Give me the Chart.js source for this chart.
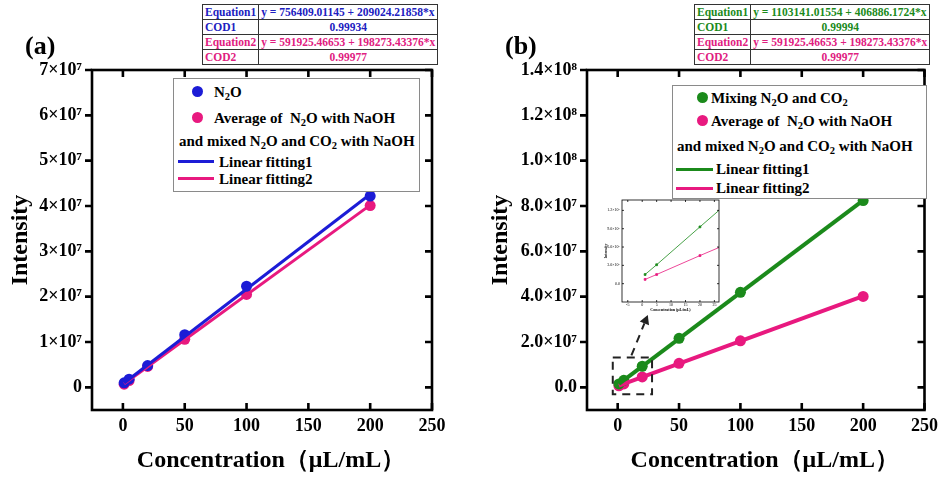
<!DOCTYPE html>
<html lang="en">
<head>
<meta charset="UTF-8">
<title>Intensity vs concentration</title>
<script src="https://cdn.jsdelivr.net/npm/chart.js"></script>
<style>
    body {
        margin: 0;
        background: #fff;
        font-family: 'Liberation Serif', 'Times New Roman', serif;
    }

    #wrap {
        position: relative;
        width: 944px;
        height: 477px;
        overflow: hidden;
    }

    canvas {
        position: absolute;
    }

    #chartA { left: 0; top: 0; }
    #chartB { left: 472px; top: 0; }
    #inset { left: 600px; top: 190px; }

    .panel {
        position: absolute;
        font-weight: bold;
        font-size: 26px;
        line-height: 26px;
    }

    table.eq {
        position: absolute;
        border-collapse: collapse;
        font-size: 11.5px;
        font-weight: bold;
        background: #fff;
    }

    table.eq td {
        border: 1.5px solid #333;
        padding: 0 2px;
        line-height: 13px;
        white-space: nowrap;
    }

    table.eq tr { height: 15px; }
    table.eq td.v { text-align: center; }

    .legend {
        position: absolute;
        border: 1px solid #8a8a8a;
        background: #fff;
    }

    .legend div {
        position: absolute;
        white-space: nowrap;
        font-weight: bold;
        font-size: 15px;
        line-height: 18px;
    }

    .legend .dot {
        width: 11px;
        height: 11px;
        border-radius: 50%;
    }

    .legend .ln { height: 3px; }

    sub {
        font-size: 70%;
        vertical-align: -3px;
        line-height: 0;
    }
</style>
</head>
<body>
<div id="wrap">
    <canvas id="chartA" width="472" height="477"></canvas>
    <canvas id="chartB" width="472" height="477"></canvas>
    <canvas id="inset" width="130" height="125"></canvas>

    <div class="panel" style="left:25px; top:33px;">(a)</div>
    <div class="panel" style="left:505px; top:33px;">(b)</div>

    <table class="eq" style="left:202px; top:4px; width:228px;">
        <tr style="color:#2020c0"><td style="width:50px">Equation1</td><td>y = 756409.01145 + 209024.21858*x</td></tr>
        <tr style="color:#2020c0"><td>COD1</td><td class="v">0.99934</td></tr>
        <tr style="color:#e0207f"><td>Equation2</td><td>y = 591925.46653 + 198273.43376*x</td></tr>
        <tr style="color:#e0207f"><td>COD2</td><td class="v">0.99977</td></tr>
    </table>

    <table class="eq" style="left:694px; top:4px; width:233px;">
        <tr style="color:#1b8a1b"><td style="width:52px">Equation1</td><td>y = 1103141.01554 + 406886.1724*x</td></tr>
        <tr style="color:#1b8a1b"><td>COD1</td><td class="v">0.99994</td></tr>
        <tr style="color:#e0207f"><td>Equation2</td><td>y = 591925.46653 + 198273.43376*x</td></tr>
        <tr style="color:#e0207f"><td>COD2</td><td class="v">0.99977</td></tr>
    </table>

    <!-- legend (a) -->
    <div class="legend" style="left:173px; top:78px; width:245px; height:112px;">
        <div class="dot" style="left:18px; top:7px; background:#1c1cd6"></div>
        <div style="left:40px; top:4px;">N<sub>2</sub>O</div>
        <div class="dot" style="left:18px; top:33px; background:#e8197f"></div>
        <div style="left:40px; top:30px;">Average of&nbsp; N<sub>2</sub>O with NaOH</div>
        <div style="left:5px; top:53px;">and mixed N<sub>2</sub>O and CO<sub>2</sub> with NaOH</div>
        <div class="ln" style="left:4px; top:81px; width:36px; background:#1c1cd6"></div>
        <div style="left:45px; top:74px;">Linear fitting1</div>
        <div class="ln" style="left:4px; top:98px; width:36px; background:#e8197f"></div>
        <div style="left:45px; top:91px;">Linear fitting2</div>
    </div>

    <!-- legend (b) -->
    <div class="legend" style="left:672px; top:85px; width:253px; height:112px;">
        <div class="dot" style="left:24px; top:6px; background:#1b8a1b"></div>
        <div style="left:38px; top:3px;">Mixing N<sub>2</sub>O and CO<sub>2</sub></div>
        <div class="dot" style="left:24px; top:29px; background:#e8197f"></div>
        <div style="left:38px; top:26px;">Average of&nbsp; N<sub>2</sub>O with NaOH</div>
        <div style="left:4px; top:51px;">and mixed N<sub>2</sub>O and CO<sub>2</sub> with NaOH</div>
        <div class="ln" style="left:3px; top:82px; width:37px; background:#1b8a1b"></div>
        <div style="left:43px; top:74px;">Linear fitting1</div>
        <div class="ln" style="left:3px; top:101px; width:37px; background:#e8197f"></div>
        <div style="left:43px; top:93px;">Linear fitting2</div>
    </div>
</div>

<script>
    // values
    const concentration = [1, 5, 20, 50, 100, 200];
    const n2o = [1.0e6, 1.8e6, 4.8e6, 11.6e6, 22.3e6, 42.2e6];
    const avgNaOH = [0.7e6, 1.5e6, 4.6e6, 10.6e6, 20.5e6, 40.1e6];
    const mixN2OCO2 = [1.5e6, 3.1e6, 9.3e6, 21.6e6, 41.9e6, 82.4e6];

    // end points of the fitted lines
    const fitX = [1, 200];
    const fit1A = [0.97e6, 42.6e6];
    const fit2 = [0.79e6, 40.2e6];
    const fit1B = [1.5e6, 82.5e6];

    const xTicks = [0, 50, 100, 150, 200, 250];
    const yTicksA = [0, 1e7, 2e7, 3e7, 4e7, 5e7, 6e7, 7e7];
    const yLabelsA = ['0', '1×10⁷', '2×10⁷', '3×10⁷', '4×10⁷', '5×10⁷', '6×10⁷', '7×10⁷'];
    const yTicksB = [0, 2e7, 4e7, 6e7, 8e7, 1e8, 1.2e8, 1.4e8];
    const yLabelsB = ['0.0', '2.0×10⁷', '4.0×10⁷', '6.0×10⁷', '8.0×10⁷', '1.0×10⁸', '1.2×10⁸', '1.4×10⁸'];

    const insetXTicks = [-5, 0, 5, 10, 15, 20, 25];
    const insetYTicks = [0, 3e6, 6e6, 9e6, 1.2e7];
    const insetYLabels = ['0.0', '3.0×10⁶', '6.0×10⁶', '9.0×10⁶', '1.2×10⁷'];

    const BLUE = '#1c1cd6';
    const PINK = '#e8197f';
    const GREEN = '#1b8a1b';
    const SERIF = "'Liberation Serif', 'Times New Roman', serif";

    Chart.defaults.font.family = SERIF;
    Chart.defaults.color = '#000';

    function pts(xs, ys) {
        return xs.map((x, i) => ({ x: x, y: ys[i] }));
    }

    // box round the plot with tick marks on all four sides
    const framePlugin = {
        id: 'frame',
        afterDatasetsDraw(chart, args, o) {
            const { ctx, chartArea: a, scales: { x, y } } = chart;
            ctx.save();
            ctx.strokeStyle = '#000';
            ctx.lineWidth = o.width;
            ctx.strokeRect(a.left, a.top, a.right - a.left, a.bottom - a.top);
            ctx.beginPath();
            x.ticks.forEach(t => {
                const px = x.getPixelForValue(t.value);
                ctx.moveTo(px, a.bottom); ctx.lineTo(px, a.bottom - o.len);
                ctx.moveTo(px, a.top); ctx.lineTo(px, a.top + o.len);
            });
            y.ticks.forEach(t => {
                const py = y.getPixelForValue(t.value);
                ctx.moveTo(a.left - o.leftLen, py); ctx.lineTo(a.left, py);
                ctx.moveTo(a.right, py); ctx.lineTo(a.right - o.len, py);
            });
            ctx.stroke();
            ctx.restore();
        }
    };

    function mainOptions(yMin, yMax, yTicks, yLabels, yAxisWidth, rightPad, yTitlePad) {
        return {
            responsive: false,
            animation: false,
            devicePixelRatio: 1,
            layout: { padding: { left: 0, right: rightPad, top: 70, bottom: 0 } },
            plugins: {
                legend: { display: false },
                tooltip: { enabled: false },
                frame: { width: 2.6, len: 7, leftLen: 7 }
            },
            scales: {
                x: {
                    type: 'linear',
                    min: -25,
                    max: 250,
                    afterBuildTicks: s => { s.ticks = xTicks.map(v => ({ value: v })); },
                    afterFit: s => { s.height = 67; },
                    grid: { display: false, drawTicks: false },
                    border: { display: false },
                    ticks: { padding: 6, font: { size: 18, weight: 'bold' }, maxRotation: 0 },
                    title: {
                        display: true,
                        text: '   Concentration（μL/mL）',
                        font: { size: 24, weight: 'bold' },
                        padding: { top: 0, bottom: 2 }
                    }
                },
                y: {
                    type: 'linear',
                    min: yMin,
                    max: yMax,
                    afterBuildTicks: s => { s.ticks = yTicks.map(v => ({ value: v })); },
                    afterFit: s => { s.width = yAxisWidth; },
                    grid: { display: false, drawTicks: false },
                    border: { display: false },
                    ticks: {
                        padding: 10,
                        font: { size: 18, weight: 'bold' },
                        callback: v => yLabels[yTicks.indexOf(v)]
                    },
                    title: {
                        display: true,
                        text: 'Intensity',
                        font: { size: 24, weight: 'bold' },
                        padding: { top: yTitlePad, bottom: 0 }
                    }
                }
            }
        };
    }

    function lineSet(xs, ys, color, width) {
        return {
            data: pts(xs, ys), showLine: true, borderColor: color,
            borderWidth: width, pointRadius: 0
        };
    }

    function dotSet(xs, ys, color) {
        return {
            data: pts(xs, ys), showLine: false, backgroundColor: color,
            borderColor: color, pointRadius: 5.5, pointBorderWidth: 0
        };
    }

    // (a)
    new Chart(document.getElementById('chartA'), {
        type: 'scatter',
        data: {
            datasets: [
                lineSet(fitX, fit1A, BLUE, 3),
                lineSet(fitX, fit2, PINK, 3),
                dotSet(concentration, n2o, BLUE),
                dotSet(concentration, avgNaOH, PINK)
            ]
        },
        options: mainOptions(-5e6, 7e7, yTicksA, yLabelsA, 92, 40, 6),
        plugins: [framePlugin]
    });

    // dashed box round the low-concentration points and the arrow to the inset
    const zoomBoxPlugin = {
        id: 'zoomBox',
        afterDatasetsDraw(chart) {
            const { ctx, scales: { x, y } } = chart;
            const l = x.getPixelForValue(-4), r = x.getPixelForValue(28);
            const t = y.getPixelForValue(1.32e7), b = y.getPixelForValue(-3.1e6);
            ctx.save();
            ctx.strokeStyle = '#222';
            ctx.lineWidth = 2;
            ctx.setLineDash([8, 6]);
            ctx.strokeRect(l, t, r - l, b - t);
            const sx = (l + r) / 2 - 1, sy = t - 2;
            const ex = sx + 13, ey = sy - 32;
            ctx.beginPath();
            ctx.moveTo(sx, sy);
            ctx.lineTo(ex, ey);
            ctx.stroke();
            ctx.setLineDash([]);
            const ang = Math.atan2(ey - sy, ex - sx);
            const hx = ex + 9 * Math.cos(ang), hy = ey + 9 * Math.sin(ang);
            ctx.fillStyle = '#222';
            ctx.beginPath();
            ctx.moveTo(hx, hy);
            ctx.lineTo(ex - 5 * Math.sin(ang), ey + 5 * Math.cos(ang));
            ctx.lineTo(ex + 5 * Math.sin(ang), ey - 5 * Math.cos(ang));
            ctx.closePath();
            ctx.fill();
            ctx.restore();
        }
    };

    // (b)
    new Chart(document.getElementById('chartB'), {
        type: 'scatter',
        data: {
            datasets: [
                lineSet(fitX, fit1B, GREEN, 4),
                lineSet(fitX, fit2, PINK, 4),
                dotSet(concentration, mixN2OCO2, GREEN),
                dotSet(concentration, avgNaOH, PINK)
            ]
        },
        options: mainOptions(-1e7, 1.4e8, yTicksB, yLabelsB, 115, 17, 14),
        plugins: [framePlugin, zoomBoxPlugin]
    });

    // inset of (b)
    new Chart(document.getElementById('inset'), {
        type: 'scatter',
        data: {
            datasets: [
                {
                    data: pts(concentration, mixN2OCO2), showLine: true, borderColor: GREEN,
                    backgroundColor: GREEN, borderWidth: 0.8, pointStyle: 'rect', pointRadius: 1.3
                },
                {
                    data: pts(concentration, avgNaOH), showLine: true, borderColor: PINK,
                    backgroundColor: PINK, borderWidth: 0.8, pointStyle: 'rect', pointRadius: 1.3
                }
            ]
        },
        options: {
            responsive: false,
            animation: false,
            devicePixelRatio: 1,
            layout: { padding: { left: 0, right: 11, top: 10, bottom: 0 } },
            plugins: {
                legend: { display: false },
                tooltip: { enabled: false },
                frame: { width: 0.8, len: 2, leftLen: -2 }
            },
            scales: {
                x: {
                    type: 'linear', min: -7, max: 26.6,
                    afterBuildTicks: s => { s.ticks = insetXTicks.map(v => ({ value: v })); },
                    afterFit: s => { s.height = 13; },
                    grid: { display: false, drawTicks: false },
                    border: { display: false },
                    ticks: { padding: 1, autoSkip: false, maxRotation: 0, font: { size: 4 } },
                    title: {
                        display: true, text: 'Concentration (μL/mL)',
                        font: { size: 4, weight: 'bold' }, padding: { top: 0, bottom: 2.5 }
                    }
                },
                y: {
                    type: 'linear', min: -3e6, max: 1.37e7,
                    afterBuildTicks: s => { s.ticks = insetYTicks.map(v => ({ value: v })); },
                    afterFit: s => { s.width = 22; },
                    grid: { display: false, drawTicks: false },
                    border: { display: false },
                    ticks: {
                        padding: 2, autoSkip: false, font: { size: 4 },
                        callback: v => insetYLabels[insetYTicks.indexOf(v)]
                    },
                    title: {
                        display: true, text: 'Intensity',
                        font: { size: 4, weight: 'bold' }, padding: { top: 3.5, bottom: 0 }
                    }
                }
            }
        },
        plugins: [framePlugin]
    });
</script>
</body>
</html>
